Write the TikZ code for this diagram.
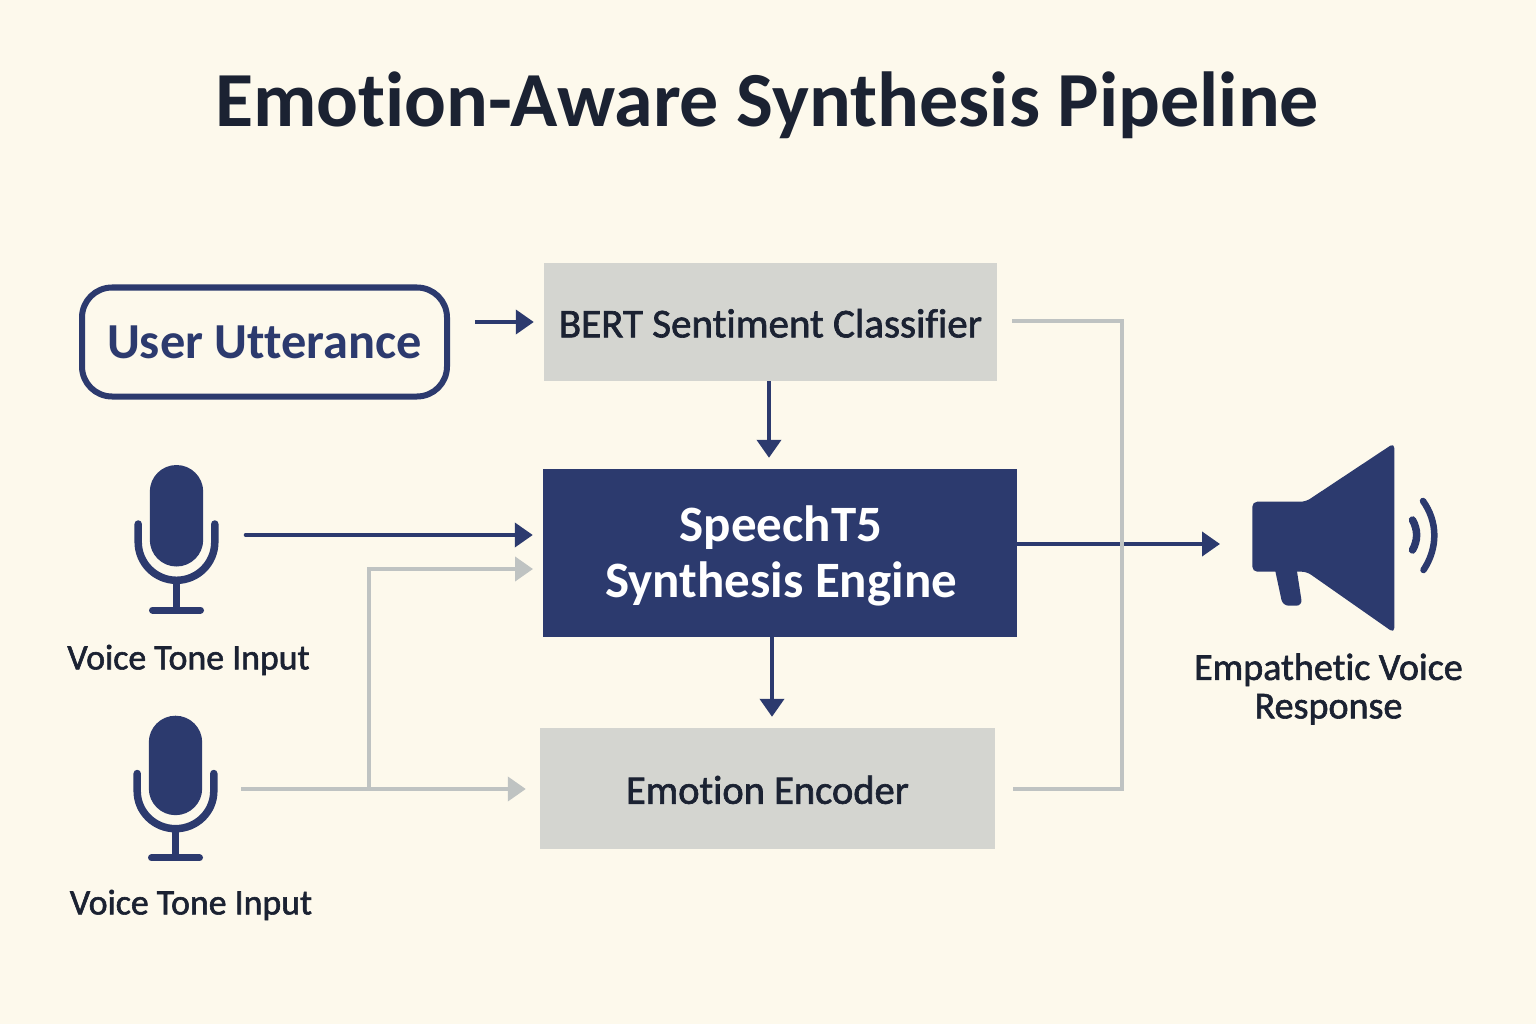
\documentclass[tikz,border=0pt]{standalone}
\usepackage{fontspec}
\setmainfont[Ligatures=NoCommon]{Carlito}
\newfontfamily\medfont[FakeBold=1.6,Ligatures=NoCommon]{Carlito}
\usetikzlibrary{arrows.meta,calc}
\definecolor{bgc}{HTML}{FDF9EC}
\definecolor{navy}{HTML}{2C3A6E}
\definecolor{boxgray}{HTML}{D4D5D0}
\definecolor{linegray}{HTML}{BFC3C2}
\definecolor{inkc}{HTML}{1B2232}
\tikzset{
  navyline/.style={draw=navy,line width=4pt},
  grayline/.style={draw=linegray,line width=4pt},
  navyarrow/.style={navyline,-{Triangle[length=18pt,width=24pt]}},
  grayarrow/.style={grayline,-{Triangle[length=18pt,width=24pt]}},
  graybox/.style={fill=boxgray,inner sep=0pt,text=inkc,align=center},
  iconbox/.style={inner sep=0pt,minimum width=84pt,minimum height=150pt},
  lbl/.style={text=inkc,inner sep=0pt,align=center},
  pics/micicon/.style={code={
    \fill[navy,rounded corners=26.7pt] (-26.7,-70) rectangle (26.7,31.5);
    \draw[navy,line width=7.5pt,line cap=round] (-38.3,-11) -- (-38.3,7) arc[start angle=180,end angle=0,radius=38.3] -- (38.3,-11);
    \draw[navy,line width=7pt] (0,45) -- (0,75);
    \draw[navy,line width=7pt,line cap=round] (-24,75) -- (24,75);
  }}
}
\begin{document}
\begin{tikzpicture}[x=1pt,y=-1pt]
\useasboundingbox (0,0) rectangle (1536,1024);
\fill[bgc] (0,0) rectangle (1536,1024);

\node[lbl,font=\fontsize{78}{84}\selectfont\bfseries] (title) at (767,105) {Emotion-Aware Synthesis Pipeline};

\node[draw=navy,line width=6pt,rounded corners=30pt,minimum width=365pt,minimum height=109pt,inner sep=0pt,text=navy,font=\fontsize{50.4}{56}\selectfont\bfseries] (user) at (264.5,342) {User Utterance};
\node[graybox,minimum width=453pt,minimum height=118pt,text height=30.8pt,text depth=0pt,font=\fontsize{41}{46}\medfont] (bert) at (770.5,322) {BERT Sentiment Classifier};
\node[fill=navy,inner sep=0pt,minimum width=474pt,minimum height=168pt,text=white,font=\fontsize{51}{56}\selectfont\bfseries] (speech) at (780,553) {\hspace*{2pt}\raisebox{-11.2pt}[30pt][30pt]{\begin{tabular}{@{}c@{}}SpeechT5\\Synthesis Engine\end{tabular}}};
\node[graybox,minimum width=455pt,minimum height=121pt,text height=30.5pt,text depth=0pt,font=\fontsize{40.5}{46}\medfont] (emotion) at (767.5,788.5) {Emotion Encoder};

\node[iconbox] (mic1) at (176.5,535) {};
\pic at (mic1.center) {micicon};
\node[iconbox] (mic2) at (175.5,789) {};
\pic[yscale=.98] at ([yshift=4.7pt]mic2.center) {micicon};
\node[lbl,font=\fontsize{35.8}{40}\medfont] (lab1) at (188.5,660) {Voice Tone Input};
\node[lbl,font=\fontsize{35.8}{40}\medfont] (lab2) at (191,905) {Voice Tone Input};

\node[inner sep=0pt,minimum width=188pt,minimum height=186pt] (speaker) at (1346,538) {};
\fill[navy,rounded corners=6pt] (1274,565) -- (1282.7,605.7) -- (1302.3,605.7) -- (1296,565) -- cycle;
\fill[navy,rounded corners=5pt] (1252.3,501.7) -- (1305.7,501.7) -- (1394.3,443) -- (1394.3,633) -- (1306.7,571.7) -- (1252.3,571.7) -- cycle;
\draw[navy,line width=7.5pt,line cap=round] (1412.5,520) .. controls (1418,530) and (1418,540) .. (1412.5,550);
\draw[navy,line width=6.5pt,line cap=round] (1423,501) .. controls (1438,522) and (1438,548) .. (1423.5,570);
\node[lbl,font=\fontsize{38.1}{38.5}\medfont] (out) at (1328.5,689) {Empathetic Voice\\Response};

\coordinate (spk) at (1252,544);
\coordinate (tee) at (369,789);
\coordinate (sp2) at (543,569);
\coordinate (bus) at (1122,321);

\draw[navyarrow,shorten <=25pt,shorten >=10pt] (user.east |- bert.west) -- (bert.west);
\draw[navyarrow,line cap=round,shorten <=27pt,shorten >=10pt] (mic1.east) -- (mic1.east -| speech.west);
\draw[navyarrow,shorten >=11pt] (bert.south -| 769,0) -- (769,0 |- speech.north);
\draw[navyarrow,shorten >=11pt] (speech.south -| 772,0) -- (772,0 |- emotion.north);
\draw[navyarrow,shorten >=32pt] (speech.east |- spk) -- (spk);

\draw[grayarrow,shorten >=10pt] (tee) |- (sp2);
\draw[grayarrow,shorten <=23.5pt,shorten >=14pt] (mic2.east) -- (mic2.east -| emotion.west);
\draw[grayline,shorten <=15pt,shorten >=18pt] (bert.east |- bus) -- (bus) -- (bus |- emotion.east) -- (emotion.east);
\end{tikzpicture}
\end{document}
